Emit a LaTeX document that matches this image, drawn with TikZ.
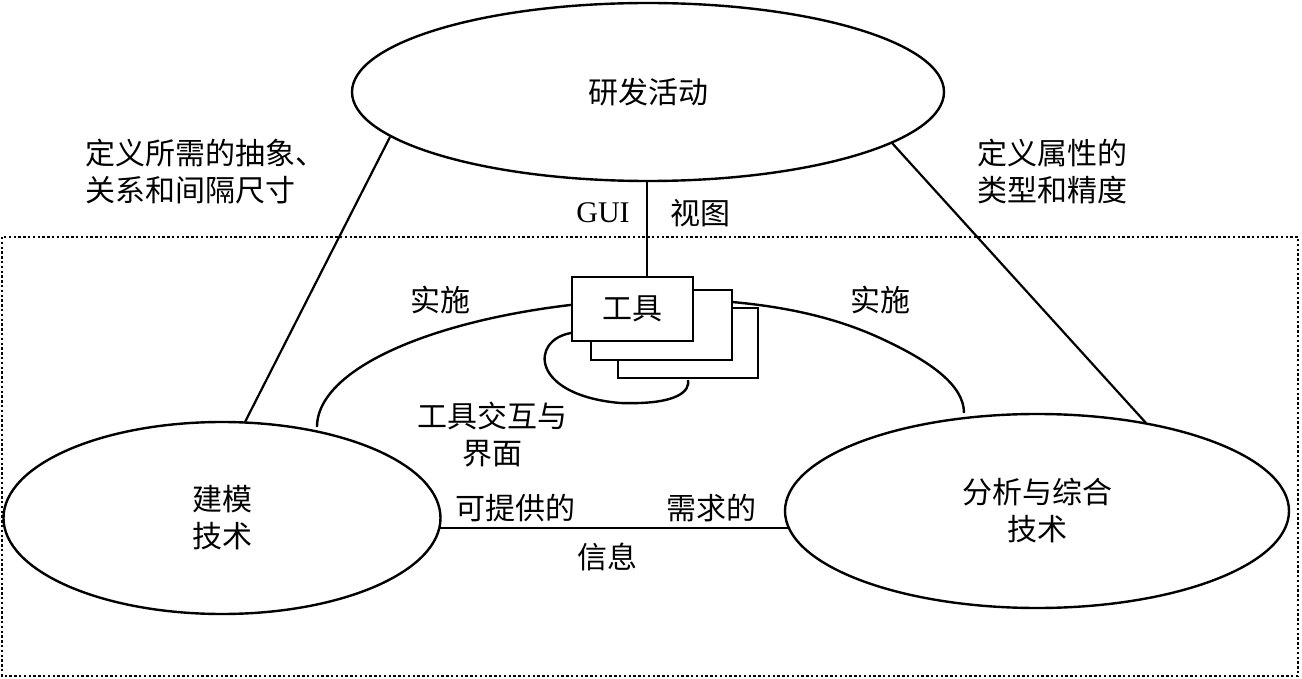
\documentclass[tikz,border=0pt]{standalone}
\usepackage{fontspec}
\setmainfont{Liberation Serif}
\newfontfamily\cjk{Noto Sans CJK SC}
\usetikzlibrary{shapes.geometric}
\begin{document}
\begin{tikzpicture}[x=1pt,y=-1pt,
  every node/.style={font=\cjk\fontsize{30}{37}\selectfont, inner sep=0pt},
  ell/.style={draw, ellipse, line width=2.4pt, inner sep=0pt, align=center},
  box/.style={draw, line width=2.4pt, fill=white, inner sep=0pt},
  conn/.style={line width=2.2pt},
  curve/.style={line width=2.4pt},
  lab/.style={align=center},
  frame/.style={line width=2.8pt, dash pattern=on 2.4pt off 2.4pt}]

\useasboundingbox (0,0) rectangle (1302,679);

% dotted frame
\draw[frame] (2,237) rectangle (1298,676);

% ellipses
\node[ell, minimum width=592pt, minimum height=178pt] (rd) at (648,92) {研发活动};
\node[ell, minimum width=437pt, minimum height=192pt] (model) at (222,518) {建模\\技术};
\node[ell, minimum width=504pt, minimum height=194pt] (anal) at (1037,511) {分析与综合\\技术};

% connector end points on ellipse borders
\coordinate (rdL) at (390,137);
\coordinate (rdR) at (892,143);
\coordinate (rdB) at (647,181);
\coordinate (moT) at (245,422);
\coordinate (moR) at (439,528);
\coordinate (anT) at (1146,423);
\coordinate (anL) at (789,528);

\draw[conn] (rdL) -- (moT);
\draw[conn] (rdR) -- (anT);
\draw[conn] (moR) -- (anL);

% tool interaction arc
\draw[curve] (317,427) .. controls (317,360) and (470,305) .. (650,299)
  .. controls (760,298) and (830,315) .. (880,338)
  .. controls (930,361) and (964,385) .. (964,413);

% loop
\draw[curve] (571,333) .. controls (530,340) and (530,395) .. (620,403)
  .. controls (680,405) and (690,390) .. (688,380);

% tool boxes
\node[box, minimum width=140pt, minimum height=70pt] (t3) at (688,343) {};
\node[box, minimum width=141pt, minimum height=70pt] (t2) at (661.5,325) {};
\node[box, minimum width=121pt, minimum height=64pt] (t1) at (632.5,309) {工具};

\draw[conn] (rdB) -- (rdB |- t1.north);

% labels
\node[align=left, anchor=west] (la) at (85,172) {定义所需的抽象、\\关系和间隔尺寸};
\node[align=left, anchor=west] (ra) at (977,171.5) {定义属性的\\类型和精度};
\node (gui) at (603,213) {\rmfamily GUI};
\node (view) at (700,213) {视图};
\node (impl1) at (440,300) {实施};
\node (impl2) at (880,300) {实施};
\node[lab] (tii) at (492,435) {工具交互与\\界面};
\node (prov) at (515,508) {可提供的};
\node (req) at (711,508) {需求的};
\node (info) at (607,557) {信息};
\end{tikzpicture}
\end{document}
